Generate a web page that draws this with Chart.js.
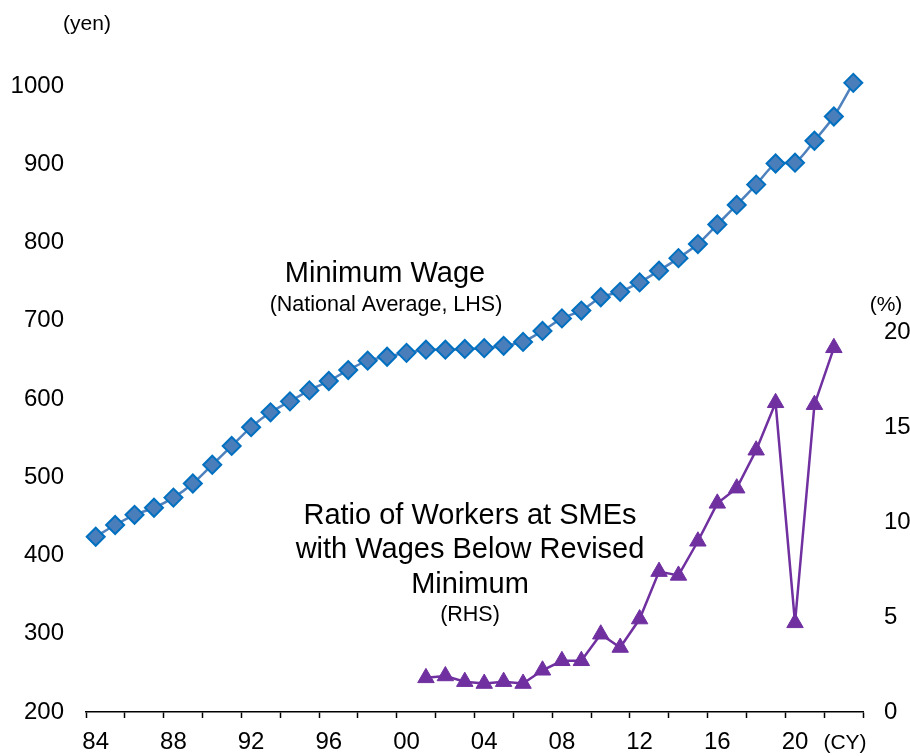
<!DOCTYPE html>
<html lang="en">
<head>
<meta charset="UTF-8">
<title>Minimum Wage and Ratio of Workers Below Revised Minimum</title>
<style>
  html, body { margin: 0; padding: 0; background: #fff; }
  #chart { display: block; }
</style>
</head>
<body>
<canvas id="chart" width="910" height="756"></canvas>

<script src="https://cdn.jsdelivr.net/npm/chart.js"></script>
<script>
  // calendar years on the x axis (one category per year)
  const years = [];
  for (let y = 1984; y <= 2023; y++) years.push(y);

  // minimum wage, national average (yen, LHS)
  const minWage = [424, 439, 452, 461, 474, 492, 516, 540, 564, 583,
                   597, 611, 623, 637, 649, 654, 659, 663, 663, 664,
                   665, 668, 673, 687, 703, 713, 730, 737, 749, 764,
                   780, 798, 823, 848, 874, 901, 902, 930, 961, 1004];

  // ratio of workers at SMEs with wages below revised minimum (%, RHS)
  const ratioYears = [2001, 2002, 2003, 2004, 2005, 2006, 2007, 2008, 2009, 2010, 2011,
                      2012, 2013, 2014, 2015, 2016, 2017, 2018, 2019, 2020, 2021, 2022];
  const belowRatio = [1.8, 1.9, 1.6, 1.5, 1.6, 1.5, 2.2, 2.7, 2.7, 4.1, 3.4,
                      4.9, 7.4, 7.2, 9.0, 11.0, 11.8, 13.8, 16.3, 4.7, 16.2, 19.2];

  // tick labels
  const wageTicks = [200, 300, 400, 500, 600, 700, 800, 900, 1000];
  const ratioTicks = [0, 5, 10, 15, 20];
  const yearLabels = [1984, 1988, 1992, 1996, 2000, 2004, 2008, 2012, 2016, 2020];

  const FONT = '"Liberation Sans", Arial, sans-serif';

  // tick marks sit on the boundaries between every second year
  const yearMarks = years.filter((y, i) => i % 2 === 0).map(y => y - 0.5);
  yearMarks.push(years[years.length - 1] + 0.5);

  const annotations = {
    id: 'annotations',
    afterDraw(chart) {
      const ctx = chart.ctx;
      ctx.save();
      ctx.fillStyle = '#000';
      ctx.textAlign = 'center';
      ctx.textBaseline = 'middle';

      ctx.font = '29px ' + FONT;
      ctx.fillText('Minimum Wage', 385, 274);
      ctx.fillText('Ratio of Workers at SMEs', 470, 516);
      ctx.fillText('with Wages Below Revised', 470, 550);
      ctx.fillText('Minimum', 470, 585);

      ctx.font = '21.5px ' + FONT;
      ctx.fillText('(National Average, LHS)', 386, 305);
      ctx.fillText('(RHS)', 470, 615);
      ctx.font = '21px ' + FONT;
      ctx.fillText('(yen)', 87, 24);
      ctx.fillText('(%)', 886, 305);
      ctx.fillText('(CY)', 845, 743);
      ctx.restore();
    }
  };

  new Chart(document.getElementById('chart').getContext('2d'), {
    type: 'line',
    data: {
      datasets: [
        {
          label: 'Minimum Wage',
          data: years.map((y, i) => ({ x: y, y: minWage[i] })),
          yAxisID: 'y',
          clip: false,
          borderColor: '#4F81BD',
          borderWidth: 2.5,
          tension: 0.25,
          pointStyle: 'rectRot',
          pointRadius: 9,
          pointBackgroundColor: '#4A7EBB',
          pointBorderColor: '#0070C0',
          pointBorderWidth: 2
        },
        {
          label: 'Ratio of Workers',
          data: ratioYears.map((y, i) => ({ x: y, y: belowRatio[i] })),
          yAxisID: 'y1',
          clip: false,
          borderColor: '#7030A0',
          borderWidth: 2.5,
          tension: 0,
          pointStyle: 'triangle',
          pointRadius: 9.5,
          pointBackgroundColor: '#7030A0',
          pointBorderColor: '#7030A0',
          pointBorderWidth: 1
        }
      ]
    },
    options: {
      responsive: false,
      animation: false,
      devicePixelRatio: 1,
      layout: { padding: { top: 86, left: 0, right: 0, bottom: 0 } },
      plugins: {
        legend: { display: false },
        tooltip: { enabled: false }
      },
      scales: {
        x: {
          type: 'linear',
          min: years[0] - 0.5,
          max: years[years.length - 1] + 0.5,
          afterBuildTicks: (scale) => {
            scale.ticks = yearMarks.concat(yearLabels)
              .sort((a, b) => a - b)
              .map(v => ({ value: v }));
          },
          afterFit: (scale) => { scale.height = 44; },
          border: { display: true, color: '#000', width: 1.5 },
          grid: {
            display: true,
            drawOnChartArea: false,
            drawTicks: true,
            tickLength: 6,
            tickWidth: 1.5,
            tickColor: (c) => (c.tick && !Number.isInteger(c.tick.value)) ? '#000' : 'rgba(0,0,0,0)'
          },
          ticks: {
            autoSkip: false,
            maxRotation: 0,
            padding: 10,
            color: '#000',
            font: { family: FONT, size: 24 },
            callback: (v) => yearLabels.includes(v) ? String(v % 100).padStart(2, '0') : ''
          }
        },
        y: {
          position: 'left',
          min: wageTicks[0],
          max: wageTicks[wageTicks.length - 1],
          afterBuildTicks: (scale) => { scale.ticks = wageTicks.map(v => ({ value: v })); },
          afterFit: (scale) => { scale.width = 86; },
          border: { display: false },
          grid: { display: false, drawTicks: false },
          ticks: {
            padding: 22,
            color: '#000',
            font: { family: FONT, size: 24 },
            callback: (v) => String(v)
          }
        },
        y1: {
          position: 'right',
          min: 0,
          max: 33,
          afterBuildTicks: (scale) => { scale.ticks = ratioTicks.map(v => ({ value: v })); },
          afterFit: (scale) => { scale.width = 47; },
          border: { display: false },
          grid: { display: false, drawTicks: false },
          ticks: {
            padding: 21,
            color: '#000',
            font: { family: FONT, size: 24 },
            callback: (v) => String(v)
          }
        }
      }
    },
    plugins: [annotations]
  });
</script>
</body>
</html>
